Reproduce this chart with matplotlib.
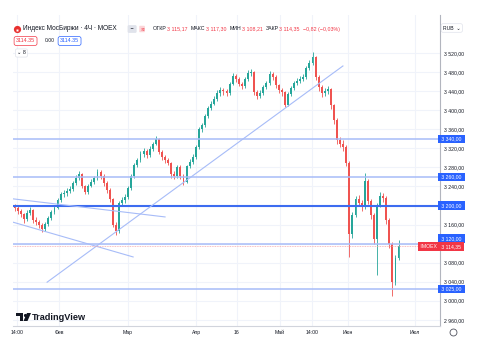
import matplotlib
matplotlib.use('Agg')
import matplotlib.pyplot as plt
import matplotlib.transforms as mtransforms
from matplotlib.lines import Line2D
from matplotlib.patches import Polygon

# 4Ч свечи IMOEX (закрытия, максимумы, минимумы)
first_open = 3200
closes = [
    3195, 3188, 3182, 3172, 3185, 3190, 3170, 3166, 3160, 3150,
    3162, 3174, 3186, 3195, 3212, 3224, 3226, 3230, 3234, 3248,
    3258, 3266, 3240, 3228, 3242, 3250, 3258, 3270, 3262, 3248,
    3232, 3214, 3160, 3146, 3206, 3212, 3218, 3236, 3262, 3285,
    3296, 3308, 3314, 3306, 3318, 3330, 3340, 3312, 3302, 3296,
    3290, 3266, 3262, 3280, 3262, 3250, 3282, 3292, 3302, 3322,
    3360, 3368, 3388, 3404, 3414, 3424, 3436, 3442, 3440, 3436,
    3456, 3472, 3466, 3456, 3450, 3466, 3478, 3480, 3438, 3430,
    3436, 3448, 3458, 3476, 3470, 3452, 3442, 3438, 3412, 3434,
    3446, 3458, 3462, 3466, 3470, 3488, 3500, 3512, 3470, 3448,
    3436, 3440, 3444, 3410, 3380, 3338, 3330, 3322, 3290, 3140,
    3180, 3214, 3206, 3196, 3252, 3210, 3180, 3130, 3200, 3220,
    3216, 3170, 3120, 3040, 3090, 3114.35,
]
highs = [
    3204, 3198, 3192, 3185, 3190, 3196, 3192, 3176, 3170, 3164,
    3166, 3178, 3190, 3200, 3216, 3228, 3232, 3236, 3240, 3252,
    3264, 3272, 3268, 3244, 3246, 3256, 3262, 3276, 3274, 3266,
    3252, 3236, 3216, 3166, 3210, 3218, 3224, 3240, 3266, 3290,
    3300, 3314, 3320, 3318, 3324, 3334, 3346, 3342, 3316, 3306,
    3300, 3292, 3272, 3284, 3284, 3266, 3286, 3298, 3308, 3326,
    3364, 3374, 3392, 3408, 3420, 3430, 3442, 3448, 3446, 3444,
    3460, 3478, 3476, 3470, 3460, 3470, 3484, 3486, 3482, 3442,
    3442, 3452, 3462, 3482, 3480, 3474, 3456, 3446, 3440, 3438,
    3450, 3462, 3468, 3472, 3476, 3492, 3506, 3522, 3514, 3474,
    3452, 3446, 3450, 3446, 3414, 3384, 3344, 3338, 3326, 3294,
    3186, 3220, 3222, 3212, 3268, 3256, 3214, 3184, 3206, 3228,
    3226, 3220, 3174, 3124, 3096, 3128,
]
lows = [
    3188, 3182, 3176, 3164, 3168, 3180, 3164, 3160, 3152, 3144,
    3146, 3158, 3170, 3182, 3192, 3208, 3218, 3220, 3226, 3230,
    3244, 3254, 3236, 3224, 3224, 3238, 3246, 3254, 3256, 3242,
    3226, 3208, 3154, 3138, 3142, 3200, 3206, 3214, 3232, 3258,
    3280, 3292, 3302, 3300, 3302, 3314, 3326, 3308, 3296, 3290,
    3284, 3258, 3256, 3258, 3256, 3244, 3248, 3278, 3288, 3298,
    3318, 3354, 3364, 3384, 3400, 3410, 3420, 3430, 3432, 3430,
    3432, 3452, 3460, 3450, 3444, 3446, 3462, 3472, 3432, 3424,
    3426, 3432, 3444, 3454, 3464, 3446, 3436, 3430, 3406, 3408,
    3430, 3442, 3454, 3458, 3462, 3466, 3484, 3496, 3464, 3440,
    3428, 3430, 3434, 3402, 3372, 3330, 3322, 3314, 3282, 3092,
    3132, 3176, 3198, 3188, 3192, 3204, 3172, 3120, 3054, 3196,
    3208, 3162, 3110, 3010, 3034, 3086,
]
opens = [first_open] + closes[:-1]

level_prices = [3340, 3260, 3200, 3120, 3025]
level_labels = ['3 340,00', '3 260,00', '3 200,00', '3 120,00', '3 025,00']
level_label_y = [3340, 3260, 3200, 3131, 3025]
last_price = 3114.35

trend_x = [(10.6, 106.9), (-0.5, 49.0), (-0.5, 38.6)]
trend_y = [(3039, 3493), (3214, 3176), (3165, 3092)]

time_ticks = [0.8, 14.5, 36.9, 59.1, 72.4, 86.4, 96.8, 108.5, 130.4]
time_labels = ['14:00', 'Фев', 'Мар', 'Апр', '16', 'Май', '14:00', 'Июн', 'Июл']
price_ticks = list(range(2960, 3521, 40))

ohlc_names = ['ОТКР', 'МАКС', 'МИН', 'ЗАКР']
ohlc_values = ['3 115,17', '3 117,30', '3 108,21', '3 114,35']
change_text = '−0,82 (−0,03%)'

W, H = 484, 347
UP, DOWN = '#26a69a', '#ef5350'
TXT = '#131722'
GRID = '#f0f3fa'


def fxy(x, y):
    return x / W, 1 - y / H


def fmt_price(p):
    return f'{p:,.2f}'.replace(',', ' ').replace('.', ',')


plt.rcParams['font.family'] = ['Liberation Sans', 'DejaVu Sans']

fig = plt.figure(figsize=(W / 100, H / 100), dpi=100)
ax = fig.add_axes([13 / W, (H - 326) / H, 427 / W, (326 - 15) / H])
ax.set_xlim(-0.5, 138.5)
ax.set_ylim(2947, 3600)

# сетка
for t in time_ticks:
    ax.axvline(t, color=GRID, lw=0.8, zorder=0)
for p in price_ticks:
    ax.axhline(p, color=GRID, lw=0.8, zorder=0)

# свечи
xs = list(range(len(closes)))
cols = [UP if c >= o else DOWN for o, c in zip(opens, closes)]
ax.vlines(xs, lows, highs, colors=cols, lw=0.6, zorder=2)
bottoms = [min(o, c) for o, c in zip(opens, closes)]
heights = [max(abs(c - o), 1.0) for o, c in zip(opens, closes)]
ax.bar(xs, heights, bottom=bottoms, width=0.62, color=cols, lw=0, zorder=2)

# горизонтальные уровни
for p in level_prices:
    if p == 3200:
        ax.axhline(p, color='#3d6cf0', lw=1.5, zorder=3)
    else:
        ax.axhline(p, color='#a7bcf8', lw=1.1, zorder=3)

# наклонные линии
for (x0, x1), (y0, y1) in zip(trend_x, trend_y):
    ax.plot([x0, x1], [y0, y1], color='#a7bcf8', lw=0.8, zorder=3)

ax.axhline(last_price, color='#f7a9ad', lw=0.6, ls=(0, (1, 1)), zorder=3)

# оси
for s in ['top', 'left']:
    ax.spines[s].set_visible(False)
ax.spines['right'].set_color('#b2b5be')
ax.spines['bottom'].set_color('#d1d4dc')
ax.spines['right'].set_linewidth(0.8)
ax.spines['bottom'].set_linewidth(0.8)

ax.yaxis.tick_right()
ax.set_yticks(price_ticks)
ax.set_yticklabels([fmt_price(p) if p not in (3120, 3200) else '' for p in price_ticks])
ax.tick_params(axis='y', length=0, pad=3, labelsize=3.7, labelcolor=TXT)
ax.set_xticks(time_ticks)
ax.set_xticklabels(time_labels)
ax.tick_params(axis='x', length=0, pad=3, labelsize=3.7, labelcolor=TXT)

tr = mtransforms.blended_transform_factory(ax.transAxes, ax.transData)
for lab, yl, p in zip(level_labels, level_label_y, level_prices):
    ax.text(1.0, yl, ' ' + lab + ' ', transform=tr, ha='left', va='center',
            fontsize=3.7, color='white', clip_on=False, zorder=6,
            bbox=dict(boxstyle='square,pad=0.35', fc='#2962ff', ec='none'))
ax.text(1.0, last_price, ' ' + fmt_price(last_price) + ' ', transform=tr,
        ha='left', va='center', fontsize=3.7, color='white', clip_on=False,
        zorder=7, bbox=dict(boxstyle='square,pad=0.35', fc='#f23645', ec='none'))
ax.text(0.997, last_price, ' IMOEX ', transform=tr, ha='right', va='center',
        fontsize=3.7, color='white', zorder=7,
        bbox=dict(boxstyle='square,pad=0.35', fc='#f23645', ec='none'))

# заголовок
fig.add_artist(Line2D([17 / W], [1 - 29 / H], marker='o', ms=5.2, mfc='#e8302f',
                      mec='none', transform=fig.transFigure))
fig.add_artist(Line2D([17 / W], [1 - 29.5 / H], marker='s', ms=2.0, mfc='white',
                      mec='none', transform=fig.transFigure))
fig.text(*fxy(23, 29), 'Индекс МосБиржи · 4Ч · MOEX', fontsize=4.7,
         color=TXT, va='center')
fig.text(*fxy(129, 29), ' − ', fontsize=4, color=TXT, va='center',
         bbox=dict(boxstyle='round,pad=0.25', fc='#e0e3eb', ec='none'))
fig.text(*fxy(140, 29), '≋', fontsize=3.5, color='#f23645', va='center',
         bbox=dict(boxstyle='round,pad=0.15', fc='#fbd5d8', ec='none'))

# строка OHLC: ширину кусков меряем рендерером
renderer = fig.canvas.get_renderer()
x_cur = 153.0
pieces = []
for name, val in zip(ohlc_names, ohlc_values):
    pieces.append((name, TXT, 0.6))
    pieces.append((val, '#f23645', 3.0))
pieces.append((change_text, '#f23645', 0))
for t, c, gap in pieces:
    txt = fig.text(*fxy(x_cur, 29), t, fontsize=3.8, color=c, va='center')
    x_cur += txt.get_window_extent(renderer).width + gap

fig.text(*fxy(16, 41), '3114.35', fontsize=3.9, color='#f23645', va='center',
         bbox=dict(boxstyle='round,pad=0.35', fc='white', ec='#f23645', lw=0.5))
fig.text(*fxy(45, 41), '0.00', fontsize=3.6, color=TXT, va='center')
fig.text(*fxy(60, 41), '3114.35', fontsize=3.9, color='#2962ff', va='center',
         bbox=dict(boxstyle='round,pad=0.35', fc='white', ec='#2962ff', lw=0.5))
fig.text(*fxy(17, 53), '⌄ 8', fontsize=3.8, color=TXT, va='center',
         bbox=dict(boxstyle='round,pad=0.3', fc='white', ec='#e0e3eb', lw=0.5))
fig.text(*fxy(443, 28), 'RUB  ⌄', fontsize=3.7, color=TXT, va='center',
         bbox=dict(boxstyle='round,pad=0.35', fc='white', ec='#e0e3eb', lw=0.5))

# логотип TradingView
fig.patches.append(Polygon([fxy(16, 313), fxy(23, 313), fxy(23, 321), fxy(20, 321),
                            fxy(20, 316), fxy(16, 316)], closed=True,
                           transform=fig.transFigure, fc=TXT, ec='none'))
fig.add_artist(Line2D([25.3 / W], [1 - 314.6 / H], marker='o', ms=2.3, mfc=TXT,
                      mec='none', transform=fig.transFigure))
fig.patches.append(Polygon([fxy(27, 313), fxy(31, 313), fxy(27.5, 321), fxy(23.5, 321)],
                           closed=True, transform=fig.transFigure, fc=TXT, ec='none'))
fig.text(*fxy(32, 317), 'TradingView', fontsize=6.6, fontweight='bold',
         color=TXT, va='center')

fig.add_artist(Line2D([453 / W], [1 - 332 / H], marker='o', ms=5, mfc='none',
                      mec='#50535e', mew=0.6, transform=fig.transFigure))

fig.savefig('out.png', dpi=100)
